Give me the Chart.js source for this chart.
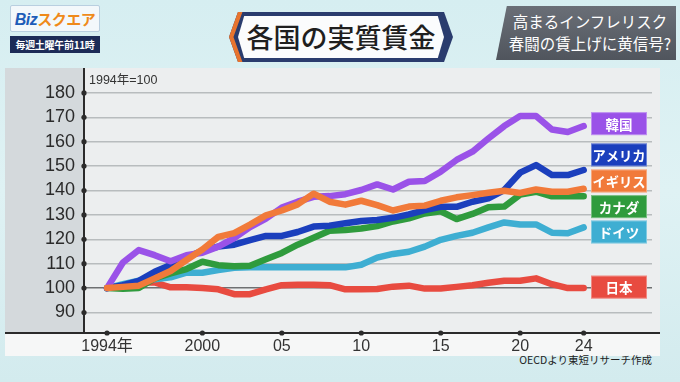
<!DOCTYPE html>
<html><head><meta charset="utf-8">
<script src="https://cdn.jsdelivr.net/npm/chart.js@4/dist/chart.umd.min.js"></script>
<style>
html,body{margin:0;padding:0;}
body{width:680px;height:382px;overflow:hidden;position:relative;
 background:linear-gradient(180deg,#d6eef1 0%,#dff2f4 50%,#d3ebee 100%);
 font-family:"Noto Sans CJK JP","Noto Sans",sans-serif;}
.abs{position:absolute;white-space:nowrap;}
#logo{left:10px;top:5px;width:88px;height:25px;background:#f3f8fb;border:1px solid #b9cfe0;border-radius:2px;
 font-weight:700;font-size:15px;line-height:25px;text-align:center;letter-spacing:-0.5px;}
#logo .b{color:#1e5db8;font-family:"Liberation Sans",sans-serif;font-style:italic;font-size:16px;}
#logo .s{color:#ef8a1a;}
#time{left:10px;top:36px;width:90px;height:17px;background:#1c2b57;color:#fff;font-size:10px;font-weight:700;
 line-height:17px;text-align:center;letter-spacing:-0.3px;}
#title{left:229px;top:12px;width:224px;height:50px;background:#2a3c6e;
 clip-path:polygon(4% 0,96% 0,100% 50%,96% 100%,4% 100%,0 50%);}
#titleOr{left:229px;top:12px;width:224px;height:50px;background:#e8742e;
 clip-path:polygon(4% 0,6% 0,2% 50%,6% 100%,4% 100%,0 50%);}
#titleIn{left:238px;top:16px;width:206px;height:42px;background:#fbfcfd;
 clip-path:polygon(3% 0,97% 0,100% 50%,97% 100%,3% 100%,0 50%);
 color:#1f1f1f;font-size:27px;font-weight:500;text-align:center;line-height:42px;letter-spacing:0px;}
#banner{left:496px;top:6px;width:180px;height:54px;background:linear-gradient(180deg,#6a6f77,#50555d);
 clip-path:polygon(6% 0,100% 0,100% 100%,0 100%);color:#fff;font-size:15.5px;line-height:22px;text-align:center;
 padding-top:4px;box-sizing:border-box;padding-left:8px;}
#panel{left:5px;top:68px;width:655px;height:288px;background:#eceeef;}
#leftcol{left:5px;top:68px;width:79px;height:265px;background:#d4d9dc;}
#bottom{left:5px;top:334px;width:655px;height:22px;background:#f6f7f7;}
#src{right:28px;top:352px;font-size:10.5px;color:#222;}
#c{position:absolute;left:0;top:0;}
</style></head>
<body>
<div id="logo" class="abs"><span class="b">Biz</span><span class="s">スクエア</span></div>
<div id="time" class="abs">毎週土曜午前11時</div>
<div id="title" class="abs"></div>
<div id="titleOr" class="abs"></div>
<div id="titleIn" class="abs">各国の実質賃金</div>
<div id="banner" class="abs">高まるインフレリスク<br>春闘の賃上げに黄信号?</div>
<div id="panel" class="abs"></div>
<div id="leftcol" class="abs"></div>
<div id="bottom" class="abs"></div>
<div id="src" class="abs">OECDより東短リサーチ作成</div>
<canvas id="c" width="680" height="382"></canvas>
<script>
const years = [1994,1995,1996,1997,1998,1999,2000,2001,2002,2003,2004,2005,2006,2007,2008,2009,2010,2011,2012,2013,2014,2015,2016,2017,2018,2019,2020,2021,2022,2023,2024];
const korea   = [100,110.5,115.6,113.5,111,113.5,114.5,117,120.5,125,128.5,133,135.4,137.4,137.7,138.5,140.2,142.5,140.4,143.6,143.9,147.7,152.5,155.9,161.3,166.4,170.5,170.5,165,164,166.4];
const usa     = [100,101.2,103,106.7,109.5,112.5,115.3,117,117.8,119.7,121.4,121.4,123,125.2,125.6,126.6,127.5,127.9,128.8,130.2,132,133.3,133.3,135.4,136.8,140.2,147.3,150.4,146.3,146.3,148.4];
const uk      = [100,100.5,101,104,107,111.5,115.8,121,122.5,126,129.8,131.8,134.3,138.7,135.4,134.2,135.8,134,131.8,133.4,133.8,135.8,137.2,138.1,139.1,139.9,139,140.4,139.5,139.5,140.7];
const canada  = [100,99.7,100,104,106,107.8,110.8,109.4,109,109.2,111.8,114.4,117.8,120.6,123.5,123.8,124.4,125.4,127.3,128.6,130.6,131.5,128.3,130.4,133.1,133.4,138.3,139.5,137.6,137.6,137.6];
const germany = [100,101.6,103,103.6,104.4,106.3,106.3,107.4,108.3,108.5,108.5,108.5,108.5,108.5,108.5,108.5,109.6,112.5,114,114.9,117,119.8,121.4,122.7,124.9,126.9,126.1,126.1,122.7,122.5,124.9];
const japan   = [100,101,102.3,102.3,100.3,100.3,100,99.5,97.5,97.5,99.5,101.2,101.4,101.4,101.2,99.5,99.5,99.6,100.6,101,99.8,99.8,100.5,101.2,102.2,103,103,104,101.6,100,100];
const yTicks = [90,100,110,120,130,140,150,160,170,180];
const xTicks = [1994,2000,2005,2010,2015,2020,2024];
const xTickLabels = ["1994年","2000","05","10","15","20","24"];
const countryNames = ["韓国","アメリカ","イギリス","カナダ","ドイツ","日本"];
const labelAnchors = [167.4,154.6,143.9,133.4,123,100.4];
const colors = ["#9a52e8","#1b3fbd","#f17a3a","#2f9b3d","#3eaed2","#e84b40"];

// drawing order: first dataset ends up on top
const series = [uk,korea,usa,canada,germany,japan];
const seriesColors = [colors[2],colors[0],colors[1],colors[3],colors[4],colors[5]];
const seriesNames = [countryNames[2],countryNames[0],countryNames[1],countryNames[3],countryNames[4],countryNames[5]];

const decor = {
  id:'decor',
  beforeDatasetsDraw(chart){
    const {ctx, chartArea:a, scales:{x,y}} = chart;
    ctx.save();
    ctx.strokeStyle='#2b2b2b'; ctx.fillStyle='#2b2b2b'; ctx.lineWidth=2;
    ctx.beginPath(); ctx.moveTo(a.left, a.top); ctx.lineTo(a.left, a.bottom); ctx.stroke();
    ctx.beginPath(); ctx.moveTo(5, a.bottom); ctx.lineTo(660, a.bottom); ctx.stroke();
    yTicks.forEach(v=>{ ctx.beginPath(); ctx.arc(a.left, y.getPixelForValue(v), 2.6, 0, Math.PI*2); ctx.fill(); });
    xTicks.forEach(v=>{ ctx.beginPath(); ctx.arc(x.getPixelForValue(v), a.bottom, 2.6, 0, Math.PI*2); ctx.fill(); });
    ctx.font='12.5px "Liberation Sans","Noto Sans CJK JP",sans-serif';
    ctx.fillStyle='#333'; ctx.textBaseline='middle'; ctx.textAlign='left';
    ctx.fillText('1994年=100', a.left+5, a.top+13);
    ctx.restore();
  },
  afterDraw(chart){
    const {ctx, chartArea:a, scales:{y}} = chart;
    ctx.save();
    countryNames.forEach((n,i)=>{
      const cy = y.getPixelForValue(labelAnchors[i]);
      const w=56,h=23, xl=a.right-61;
      ctx.fillStyle=colors[i];
      ctx.fillRect(xl, cy-h/2, w, h);
      ctx.strokeStyle='rgba(255,255,255,0.35)'; ctx.lineWidth=1;
      ctx.strokeRect(xl+0.5, cy-h/2+0.5, w-1, h-1);
      ctx.fillStyle='#fff'; ctx.font='700 13.5px "Noto Sans CJK JP",sans-serif';
      ctx.textAlign='center'; ctx.textBaseline='middle';
      ctx.fillText(n, xl+w/2, cy+1, w-3);
    });
    ctx.restore();
  }
};

new Chart(document.getElementById('c'), {
  type:'line',
  data:{
    datasets: series.map((s,i)=>({
      label: seriesNames[i],
      data: s.map((v,j)=>({x:years[j], y:v})),
      borderColor: seriesColors[i],
      borderWidth: 6.5,
      pointRadius: 0,
      tension: 0,
      borderJoinStyle:'round',
      borderCapStyle:'round',
      fill:false
    }))
  },
  options:{
    responsive:false, animation:false,
    layout:{padding:{left:5,top:68,right:28,bottom:25}},
    plugins:{legend:{display:false}, tooltip:{enabled:false}},
    scales:{
      x:{type:'linear', min:1992.55, max:2028.3,
        afterBuildTicks(s){ s.ticks = xTicks.map(v=>({value:v})); },
        afterFit(s){ s.height = 24; },
        grid:{display:false, drawTicks:false},
        border:{display:false},
        ticks:{padding:4, color:'#333', maxRotation:0, autoSkip:false,
          font:{size:16, family:'"Liberation Sans","Noto Sans CJK JP",sans-serif'},
          callback(v){ const k = xTicks.indexOf(v); return k>=0 ? xTickLabels[k] : ''; }}
      },
      y:{min:81.6, max:190.2,
        afterBuildTicks(s){ s.ticks = yTicks.map(v=>({value:v})); },
        afterFit(s){ s.width = 79; },
        grid:{drawTicks:false, lineWidth:1.5,
          color(c){ return c.tick && c.tick.value===100 ? '#6e7072' : '#b8bcbe'; }},
        border:{display:false},
        ticks:{padding:9, color:'#2b2b2b',
          font:{size:18, family:'"Liberation Sans",sans-serif'}}
      }
    }
  },
  plugins:[decor]
});
</script>
</body></html>
